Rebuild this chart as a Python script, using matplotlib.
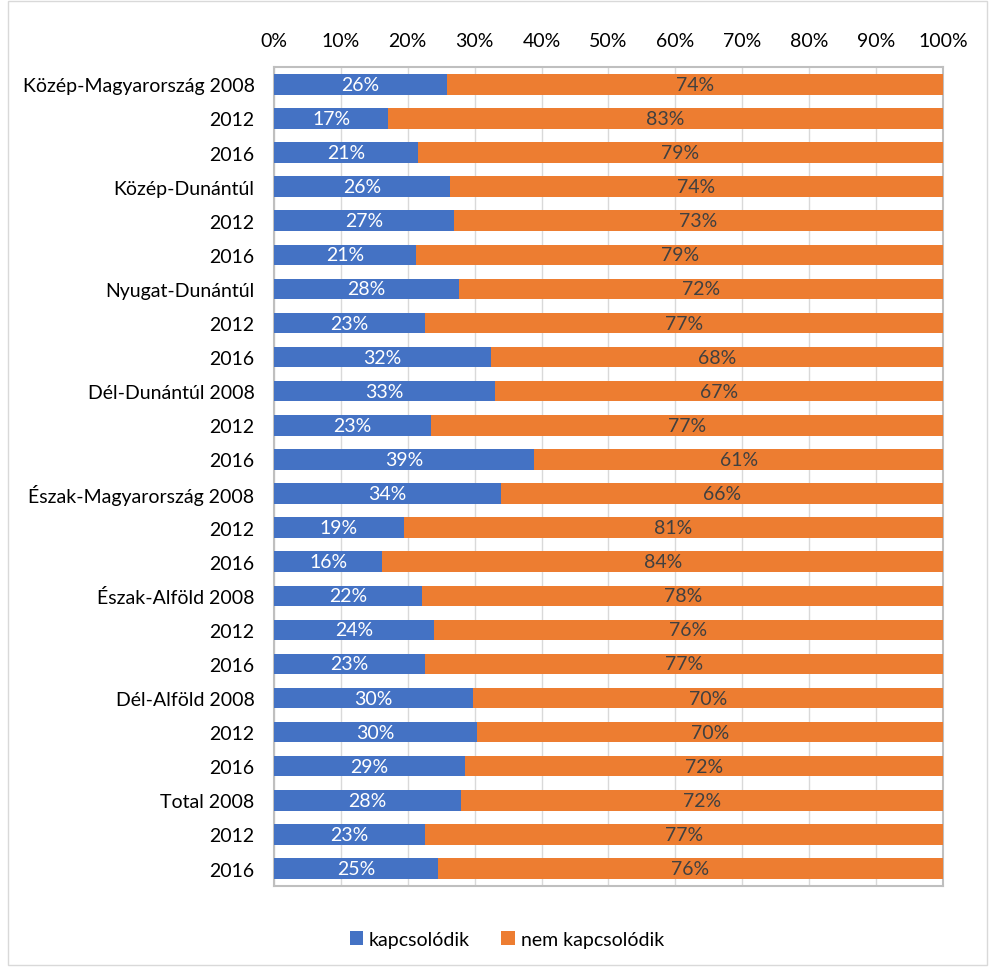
import matplotlib
matplotlib.use("Agg")
import matplotlib.pyplot as plt
from matplotlib.patches import Rectangle

plt.rcParams['font.family'] = ['Lato', 'DejaVu Sans']

# kategóriák (fentről lefelé)
categories = [
    "Közép-Magyarország 2008", "2012", "2016",
    "Közép-Dunántúl", "2012", "2016",
    "Nyugat-Dunántúl", "2012", "2016",
    "Dél-Dunántúl 2008", "2012", "2016",
    "Észak-Magyarország 2008", "2012", "2016",
    "Észak-Alföld 2008", "2012", "2016",
    "Dél-Alföld 2008", "2012", "2016",
    "Total 2008", "2012", "2016",
]
# kapcsolódik arány (%), a sávok hosszából becsülve
kapcs = [25.9, 17.1, 21.5, 26.3, 26.9, 21.3, 27.7, 22.6, 32.4, 33.1, 23.4, 38.9,
         34.0, 19.4, 16.2, 22.2, 23.9, 22.6, 29.8, 30.3, 28.5, 27.9, 22.6, 24.5]
nem_kapcs = [100 - v for v in kapcs]
# feliratok
kapcs_lbl = [26, 17, 21, 26, 27, 21, 28, 23, 32, 33, 23, 39,
             34, 19, 16, 22, 24, 23, 30, 30, 29, 28, 23, 25]
nem_lbl = [74, 83, 79, 74, 73, 79, 72, 77, 68, 67, 77, 61,
           66, 81, 84, 78, 76, 77, 70, 70, 72, 72, 77, 76]
xticks = list(range(0, 101, 10))

blue = '#4472C4'
orange = '#ED7D31'

fig = plt.figure(figsize=(9.89, 9.70), dpi=100)
ax = fig.add_axes([0.277, 0.086, 0.6765, 0.8436])

y = list(range(len(categories)))
ax.barh(y, kapcs, height=0.6, color=blue, label='kapcsolódik', zorder=3)
ax.barh(y, nem_kapcs, left=kapcs, height=0.6, color=orange, label='nem kapcsolódik', zorder=3)

for i in y:
    ax.text(kapcs[i] / 2, i, f"{kapcs_lbl[i]}%", ha='center', va='center',
            color='white', fontsize=14, zorder=4)
    ax.text(kapcs[i] + nem_kapcs[i] / 2, i, f"{nem_lbl[i]}%", ha='center', va='center',
            color='#404040', fontsize=14, zorder=4)

ax.set_ylim(len(categories) - 0.5, -0.5)
ax.set_xlim(0, 100)
ax.set_yticks(y)
ax.set_yticklabels(categories, fontsize=14, color='#000000')
ax.set_xticks(xticks)
ax.set_xticklabels([f"{t}%" for t in xticks], fontsize=14)
ax.xaxis.tick_top()
ax.tick_params(axis='both', length=0)
ax.tick_params(axis='x', pad=13)
ax.tick_params(axis='y', pad=14)
ax.grid(axis='x', color='#d9d9d9', linewidth=1, zorder=0)
for s in ax.spines.values():
    s.set_color('#bfbfbf')
    s.set_linewidth(1.5)

ax.legend(loc='upper center', bbox_to_anchor=(0.348, -0.034),
          ncol=2, frameon=False, fontsize=14, handlelength=0.7, handleheight=0.7,
          columnspacing=1.6, handletextpad=0.3)

fig.patches.append(Rectangle((0.008, 0.004), 0.99, 0.994, transform=fig.transFigure,
                             fill=False, edgecolor='#d9d9d9', linewidth=1))

fig.savefig("out.png", dpi=100)
